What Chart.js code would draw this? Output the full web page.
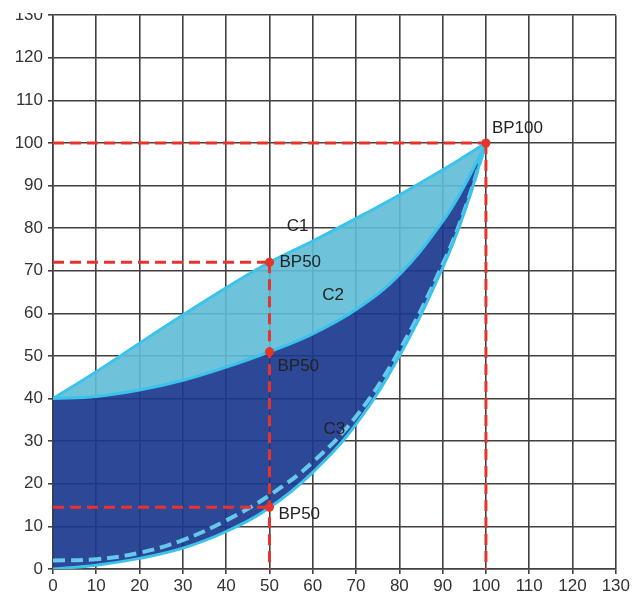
<!DOCTYPE html>
<html>
<head>
<meta charset="utf-8">
<script src="https://cdn.jsdelivr.net/npm/chart.js@4.4.1/dist/chart.umd.min.js"></script>
<style>
  html, body { margin: 0; padding: 0; background: #fff; }
  #wrap { position: relative; width: 632px; height: 594px; }
  #topMask { position: absolute; left: 0; top: 0; width: 632px; height: 13px; background: #fff; }
</style>
</head>
<body>
<div id="wrap">
  <canvas id="chart"></canvas>
  <div id="topMask"></div>
</div>
<script>
// x positions shared by the three curves
const xs = [0, 10, 20, 30, 40, 50, 60, 70, 80, 90, 95, 100];

// curve values
const c1Y = [40, 46.3, 53, 59.6, 66, 72, 77, 82.3, 87.8, 93.7, 96.8, 100];
const c2Y = [40, 40.5, 42, 44.3, 47.4, 51, 55.2, 60.9, 69.1, 81.6, 89.9, 100];
const c3Y = [0, 0.9, 2.5, 4.9, 8.8, 14.4, 22.7, 34, 50, 70.7, 83.7, 100];
const c3DashY = [2, 2.3, 3.8, 6.8, 11.4, 17.3, 25.1, 35.8, 51.3, 71.5, 84.1, 100];

// break points
const bpX = [100, 50, 50, 50];
const bpY = [100, 72, 51, 14.5];
const bpLabels = ['BP100', 'BP50', 'BP50', 'BP50'];
const bpHasGuide = [true, true, false, true];

// curve names
const curveNames = ['C1', 'C2', 'C3'];
const nameX = [56.5, 64.7, 65];
const nameY = [80.5, 64.2, 32.8];

// styles
const bpOffsets = [[6, -15], [10, 0], [8, 15], [9, 7]];
const CYAN = '#3cc3ec';
const RED = '#e5342b';
const GRID = '#463f3f';
const FONT = '"Liberation Sans", Arial, sans-serif';

const mk = (xv, yv) => xv.map((v, i) => ({ x: v, y: yv[i] }));

// red dashed guide lines
const guideSets = [];
bpX.forEach((bx, i) => {
    if (bpHasGuide[i]) {
        guideSets.push([{ x: 0, y: bpY[i] }, { x: bx, y: bpY[i] }]);
    }
});
[...new Set(bpX)].forEach(bx => {
    const top = Math.max(...bpY.filter((v, i) => bpX[i] === bx));
    guideSets.push([{ x: bx, y: top }, { x: bx, y: 0 }]);
});

const curve = {
    pointRadius: 0,
    borderColor: CYAN,
    borderWidth: 3,
    tension: 0.4
};

const datasets = [
    Object.assign({ label: 'C1', data: mk(xs, c1Y), fill: '+1', backgroundColor: 'rgba(94,189,214,0.9)', order: 3 }, curve),
    Object.assign({ label: 'C2', data: mk(xs, c2Y), fill: 3, backgroundColor: 'rgba(28,56,143,0.92)', order: 3 }, curve),
    Object.assign({ label: 'C3d', data: mk(xs, c3DashY), fill: false }, curve, { borderColor: '#66c8ea', borderWidth: 4, borderDash: [12, 6], order: 4 }),
    Object.assign({ label: 'C3', data: mk(xs, c3Y), fill: false, order: 3 }, curve)
];

guideSets.forEach(g => {
    datasets.push({
        data: g, fill: false, pointRadius: 0,
        borderColor: RED, borderWidth: 3, borderDash: [11, 6], order: 1
    });
});

datasets.push({
    type: 'scatter',
    data: mk(bpX, bpY),
    pointRadius: 4.5,
    pointBackgroundColor: RED,
    pointBorderWidth: 0,
    showLine: false,
    order: 0
});

const labelPlugin = {
    id: 'curveLabels',
    afterDatasetsDraw(chart) {
        const { ctx, scales: { x, y } } = chart;
        ctx.save();
        ctx.font = '17px ' + FONT;
        ctx.fillStyle = '#222';
        ctx.textBaseline = 'middle';
        ctx.textAlign = 'left';
        bpLabels.forEach((t, i) => {
            ctx.fillText(t, x.getPixelForValue(bpX[i]) + bpOffsets[i][0], y.getPixelForValue(bpY[i]) + bpOffsets[i][1]);
        });
        ctx.textAlign = 'center';
        curveNames.forEach((t, i) => {
            ctx.fillText(t, x.getPixelForValue(nameX[i]), y.getPixelForValue(nameY[i]));
        });
        ctx.restore();
    }
};

new Chart(document.getElementById('chart'), {
    type: 'line',
    data: { datasets: datasets },
    plugins: [labelPlugin],
    options: {
        responsive: true,
        maintainAspectRatio: false,
        animation: false,
        layout: { padding: { top: 7, right: 15, left: 0, bottom: 0 }, autoPadding: false },
        plugins: {
            legend: { display: false },
            tooltip: { enabled: false },
            filler: { drawTime: 'beforeDatasetsDraw' }
        },
        scales: {
            x: {
                type: 'linear', min: 0, max: 130,
                afterFit: s => { s.height = 25; },
                grid: { color: GRID, lineWidth: 1.6, tickLength: 5 },
                border: { color: GRID, width: 1.6 },
                ticks: { stepSize: 10, padding: 2, color: '#333', maxRotation: 0, font: { family: FONT, size: 17 } }
            },
            y: {
                type: 'linear', min: 0, max: 130,
                afterFit: s => { s.width = 53; },
                grid: { color: GRID, lineWidth: 1.6, tickLength: 5 },
                border: { color: GRID, width: 1.6 },
                ticks: { stepSize: 10, padding: 5, color: '#333', font: { family: FONT, size: 17 } }
            }
        }
    }
});
</script>
</body>
</html>
